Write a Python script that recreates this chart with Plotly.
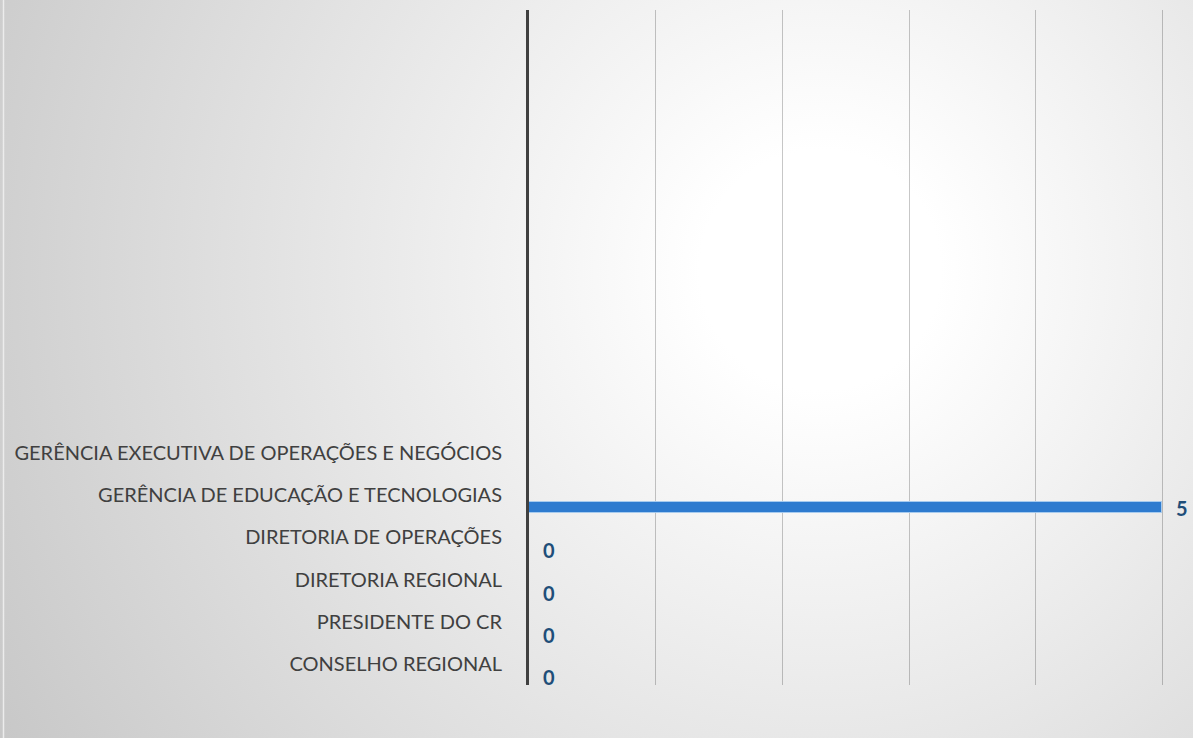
import plotly.graph_objects as go
import urllib.parse

# Data (bottom to top)
categories = [
    "CONSELHO REGIONAL",
    "PRESIDENTE DO CR",
    "DIRETORIA REGIONAL",
    "DIRETORIA DE OPERAÇÕES",
    "GERÊNCIA DE EDUCAÇÃO E TECNOLOGIAS",
    "GERÊNCIA EXECUTIVA DE OPERAÇÕES E NEGÓCIOS",
]
values = [0, 0, 0, 0, 5, None]
x_ticks = [0, 1, 2, 3, 4, 5]

W, H = 1193, 738
L, R, T, B = 529, 28, 10, 53
pw, ph = W - L - R, H - T - B

svg = f'''<svg xmlns="http://www.w3.org/2000/svg" width="{W}" height="{H}" viewBox="0 0 {W} {H}" preserveAspectRatio="none">
<defs><radialGradient id="g" gradientUnits="userSpaceOnUse" cx="820" cy="270" r="1000">
<stop offset="0" stop-color="#ffffff"/><stop offset="0.12" stop-color="#ffffff"/>
<stop offset="1" stop-color="#c4c4c4"/></radialGradient></defs>
<rect x="0" y="0" width="{W}" height="{H}" fill="url(#g)"/>
<line x1="3.5" y1="0" x2="3.5" y2="{H}" stroke="#ececec" stroke-width="1.5"/>
</svg>'''
bg_uri = "data:image/svg+xml;charset=utf-8," + urllib.parse.quote(svg)

fig = go.Figure()
fig.add_trace(go.Bar(
    y=categories,
    x=values,
    orientation="h",
    offset=-0.43,
    width=0.27,
    marker=dict(color="#2e7bcf", line=dict(color="rgba(170,205,240,0.9)", width=1)),
    hoverinfo="x+y",
))

for c, v in zip(categories, values):
    if v is None:
        continue
    fig.add_annotation(
        x=v, y=c, xref="x", yref="y",
        text=str(v), showarrow=False,
        xanchor="left", yanchor="middle",
        xshift=12, yshift=-13,
        font=dict(family="Lato, Open Sans, sans-serif", size=20, color="#1f4e79", weight="bold"),
    )

fig.update_layout(
    width=W, height=H,
    margin=dict(l=L, r=R, t=T, b=B, pad=0),
    paper_bgcolor="rgba(0,0,0,0)",
    plot_bgcolor="rgba(0,0,0,0)",
    showlegend=False,
    bargap=0,
    images=[dict(
        source=bg_uri, xref="paper", yref="paper",
        x=-L / pw, y=1 + T / ph, sizex=W / pw, sizey=H / ph,
        xanchor="left", yanchor="top", sizing="stretch", layer="below",
    )],
    xaxis=dict(
        range=[0, 5.02], tickvals=x_ticks, showticklabels=False,
        showgrid=True, gridcolor="rgba(0,0,0,0.22)", gridwidth=1.2,
        zeroline=False, showline=False, ticks="",
    ),
    yaxis=dict(
        type="category", categoryorder="array", categoryarray=categories,
        range=[-0.5, 15.5],
        showline=True, linecolor="#404040", linewidth=3,
        showgrid=False, zeroline=False, ticks="",
        ticklabelstandoff=20,
        tickfont=dict(family="Lato, Open Sans, sans-serif", size=20, color="#404040"),
    ),
)

fig.write_html("out.html", config={"displayModeBar": False},
               post_script="document.body.style.margin='0px';")
